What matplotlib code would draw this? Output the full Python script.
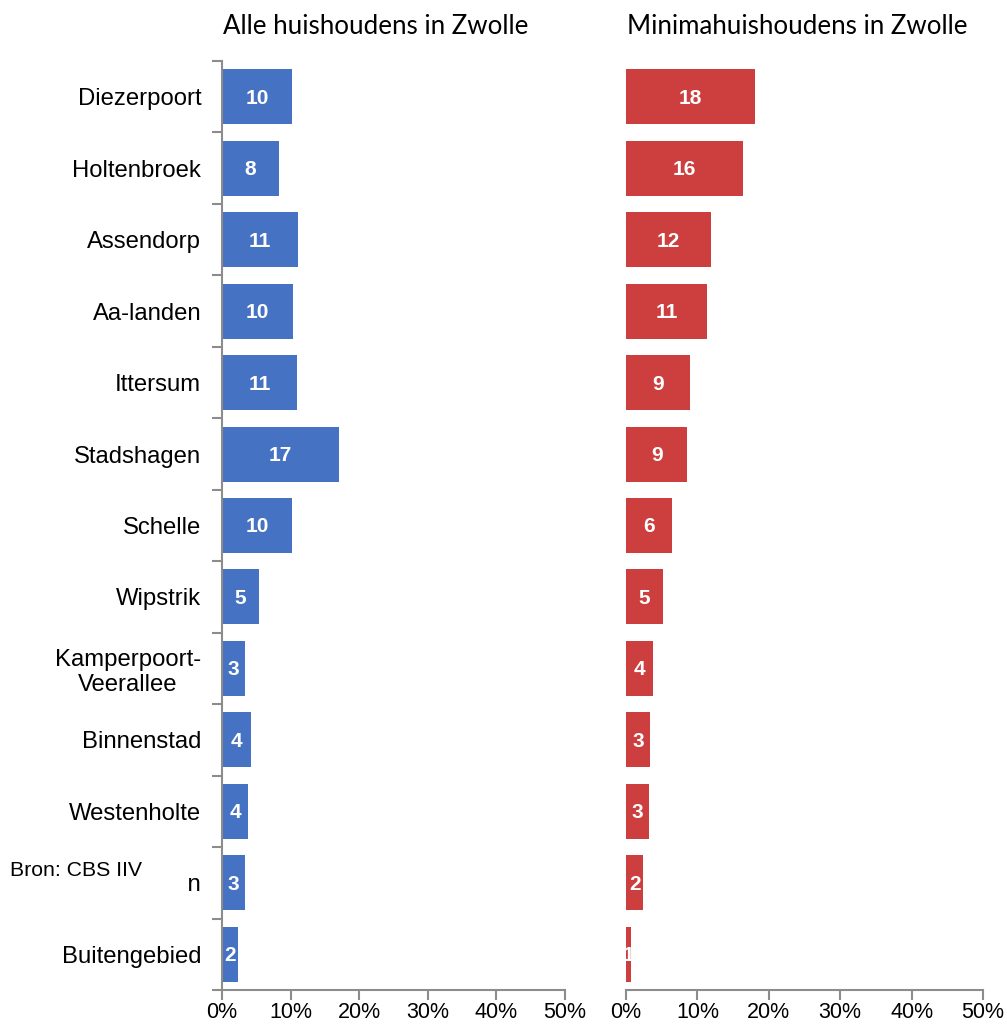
import matplotlib
matplotlib.use('Agg')
import matplotlib.pyplot as plt
from matplotlib.patches import Rectangle
import numpy as np

plt.rcParams['font.family'] = ['Liberation Sans', 'DejaVu Sans']

# data
wijken = ['Diezerpoort', 'Holtenbroek', 'Assendorp', 'Aa-landen', 'Ittersum',
          'Stadshagen', 'Schelle', 'Wipstrik', 'Kamperpoort-\nVeerallee',
          'Binnenstad', 'Westenholte', 'Marslanden', 'Buitengebied']
alle = [10.2, 8.3, 11.1, 10.4, 10.9, 17.1, 10.2, 5.4, 3.4, 4.2, 3.8, 3.4, 2.3]
minima = [18.1, 16.4, 11.9, 11.3, 9.0, 8.6, 6.4, 5.2, 3.8, 3.4, 3.2, 2.4, 0.7]
xticks = [0, 10, 20, 30, 40, 50]
xticklabels = ['0%', '10%', '20%', '30%', '40%', '50%']

BLUE = '#4672c3'
RED = '#cd3e3e'
GRAY = '#8c8c8c'

W, H = 1007, 1026
fig = plt.figure(figsize=(W / 100, H / 100), dpi=100)
fig.patch.set_facecolor('white')

y0, y1 = 990, 61
axL = fig.add_axes([222 / W, (H - y0) / H, (565 - 222) / W, (y0 - y1) / H])
axR = fig.add_axes([626 / W, (H - y0) / H, (983 - 626) / W, (y0 - y1) / H])

pos = np.arange(len(wijken))

for ax, vals, col in [(axL, alle, BLUE), (axR, minima, RED)]:
    ax.barh(pos, vals, height=0.77, color=col, zorder=2)
    for p, v in zip(pos, vals):
        ax.text(v / 2, p + 0.02, f'{round(v)}', ha='center', va='center',
                color='white', fontsize=15, fontweight='bold', clip_on=True, zorder=3)
    ax.set_xlim(0, 50)
    ax.set_ylim(len(wijken) - 0.5, -0.5)
    ax.set_xticks(xticks)
    ax.set_xticklabels(xticklabels, fontsize=15.5)
    ax.tick_params(axis='x', direction='out', length=7, width=1.5, color=GRAY, pad=2)
    for s in ['top', 'right']:
        ax.spines[s].set_visible(False)
    ax.spines['bottom'].set_color(GRAY)
    ax.spines['bottom'].set_linewidth(1.5)

# linker paneel: as met streepjes tussen de wijken
axL.spines['left'].set_color(GRAY)
axL.spines['left'].set_linewidth(1.5)
axL.set_yticks(pos)
axL.set_yticklabels(wijken, fontsize=17.2)
axL.set_yticks(np.arange(len(wijken) + 1) - 0.5, minor=True)
axL.tick_params(axis='y', which='major', length=0, pad=15)
axL.tick_params(axis='y', which='minor', direction='out', length=7, width=1.5, color=GRAY)
for lab in axL.get_yticklabels():
    lab.set_multialignment('center')

# rechter paneel zonder y-as
axR.spines['left'].set_visible(False)
axR.set_yticks([])

fig.text(223 / W, 1 - 27 / H, 'Alle huishoudens in Zwolle', fontsize=18.6,
         family=['Lato', 'DejaVu Sans'], va='center', ha='left')
fig.text(627 / W, 1 - 27 / H, 'Minimahuishoudens in Zwolle', fontsize=18.6,
         family=['Lato', 'DejaVu Sans'], va='center', ha='left')

# bronvermelding in wit kader
fig.patches.append(Rectangle((0, 1 - 905 / H), 188 / W, 55 / H, transform=fig.transFigure,
                             facecolor='white', edgecolor='none', zorder=5))
fig.text(10 / W, 1 - 871 / H, 'Bron: CBS IIV', fontsize=15.3, va='center', ha='left', zorder=6)

fig.savefig('out.png', dpi=100, facecolor='white')
plt.close(fig)
